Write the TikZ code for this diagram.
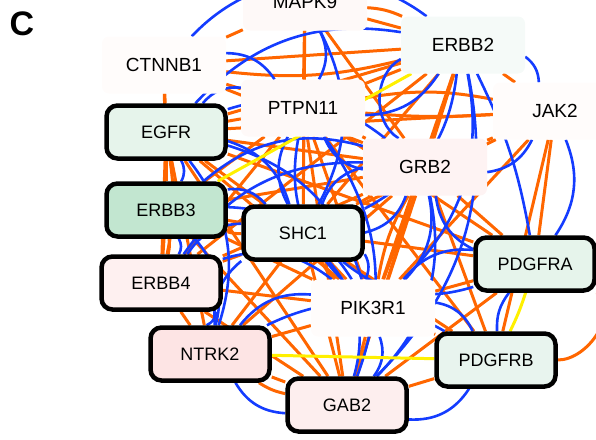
\documentclass[tikz,border=0pt]{standalone}
\usepackage{fontspec}
\setmainfont{Liberation Sans}
\usetikzlibrary{backgrounds}
\definecolor{eo}{RGB}{255,102,0}
\definecolor{eb}{RGB}{20,60,255}
\definecolor{ey}{RGB}{255,240,0}
\definecolor{fgA}{RGB}{230,244,235}
\definecolor{fgB}{RGB}{194,230,208}
\definecolor{fgC}{RGB}{240,248,244}
\definecolor{fgD}{RGB}{232,244,238}
\definecolor{fgE}{RGB}{245,250,248}
\definecolor{fpA}{RGB}{254,240,240}
\definecolor{fpB}{RGB}{253,228,228}
\definecolor{fpC}{RGB}{253,238,238}
\definecolor{fpD}{RGB}{254,243,243}
\definecolor{fpE}{RGB}{254,249,248}
\definecolor{fpF}{RGB}{255,252,251}
\tikzset{
  lbl/.style={inner sep=0pt, text=black},
  bx/.style={lbl, font=\fontsize{18}{18}\selectfont, draw=black, line width=4.5pt, rounded corners=11pt, minimum width=119pt, minimum height=53pt},
  pl/.style={lbl, font=\fontsize{19}{19}\selectfont, rounded corners=7pt, minimum width=124pt, minimum height=57pt},
  oe/.style={draw=eo, line width=3pt},
  be/.style={draw=eb, line width=2.6pt},
  ye/.style={draw=ey, line width=3pt},
}
\begin{document}
\begin{tikzpicture}[x=1pt,y=-1pt]
\useasboundingbox (0,0) rectangle (596,439);
\clip (0,0) rectangle (596,439);
\node[font=\fontsize{34}{34}\selectfont\bfseries, inner sep=0pt] (lab) at (22,24) {C};
% plain nodes
\node[pl, fill=fpE] (M)  at (305,2)   {MAPK9};
\node[pl, fill=fpF] (C)  at (164,65)  {CTNNB1};
\node[pl, fill=fgE] (E2) at (463,45)  {ERBB2};
\node[pl, fill=fpE] (P)  at (303,108) {PTPN11};
\node[pl, fill=fpF] (J)  at (555,111) {JAK2};
\node[pl, fill=fpD] (G)  at (425,167) {GRB2};
\node[pl, fill=fpF] (PI) at (373,308) {PIK3R1};
% bordered nodes
\node[bx, fill=fgA] (EG) at (166,132) {EGFR};
\node[bx, fill=fgB] (E3) at (166,210) {ERBB3};
\node[bx, fill=fgC] (S)  at (303,233) {SHC1};
\node[bx, fill=fpA] (E4) at (161,283) {ERBB4};
\node[bx, fill=fgA] (PA) at (535,264) {PDGFRA};
\node[bx, fill=fpB] (N)  at (210,354) {NTRK2};
\node[bx, fill=fgD] (PB) at (496,360) {PDGFRB};
\node[bx, fill=fpC] (GA) at (347,405) {GAB2};
\begin{pgfonlayer}{background}
% orange straight edges
\foreach \a/\b in {EG/E3, EG/E4, EG/E2, EG/G, EG/S, EG/PI, EG/P, EG/GA, EG/C, EG/J, EG/PA, EG/N,
  E3/E4, E3/S, E3/G, E3/PI, E3/GA, E3/P, E3/C,
  E4/E2, E4/S, E4/G, E4/PI, E4/GA, E4/N, E4/P,
  E2/G, E2/S, E2/PI, E2/P, E2/C, E2/J, E2/GA, E2/M,
  S/G, S/PI, S/P, S/GA, S/N, S/PA, S/PB, S/J, S/M,
  G/PI, G/P, G/GA, G/PA, G/PB, G/N, G/J, G/M, G/C,
  PI/P, PI/GA, PI/PA, PI/PB, PI/N, PI/J,
  P/GA, P/PA, P/PB, P/M, P/C,
  GA/PA, GA/PB, GA/N, PA/J, PB/J, C/M}
  \draw[oe] (\a) -- (\b);
% orange curved (parallel) edges
\foreach \a/\b in {P/J, E2/C, M/E2, PI/G, S/E3, GA/N, EG/E4, E3/E4, PI/S}
  \draw[oe] (\a) to[bend left=10] (\b);
\draw[oe] (P) to[bend right=4] (J);
\draw[oe] (PB.east) to[out=0,in=-40] (PA.south east);
% blue curved edges
\foreach \a/\b in {EG/E3, EG/E2, EG/G, EG/S, EG/PI, E3/E4, E3/S, E3/G, E4/S, E4/PI, E4/N,
  E2/S, E2/PI, E2/P, S/G, S/PI, S/P, S/GA, G/PI, G/P, G/GA, PI/P, PI/GA, PI/PA, PI/PB,
  P/GA, GA/N, PA/G, PA/S, N/PI, N/S, C/P, J/G, J/PA, N/PB, EG/P, M/P, M/S, E2/GA, E4/G,
  EG/N, E3/N, E3/PI, G/S}
  \draw[be] (\a) to[bend left=28] (\b);
\draw[be] (C) to[bend left=42] (E2);
\draw[be] (E2) to[bend right=60] (G);
\draw[be] (GA) to[bend right=30] (PB);
\draw[be] (E2) to[bend left=8] (PA);
\draw[be] (PA) to[bend right=20] (PB);
\draw[be] (E2) to[bend left=25] (J);
% yellow edges
\draw[ye] (E3) -- (E2);
\draw[ye] (N) -- (PB);
\draw[ye] (PA) to[bend left=4] (PB);
\end{pgfonlayer}
\end{tikzpicture}
\end{document}
